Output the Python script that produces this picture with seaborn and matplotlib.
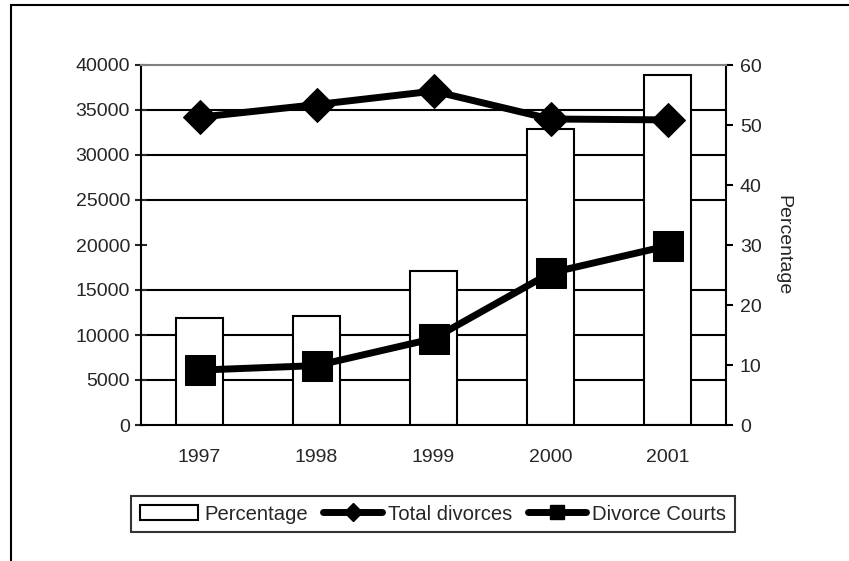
import numpy as np
import pandas as pd
import seaborn as sns
from matplotlib import pyplot as plt
from matplotlib.patches import Patch, Rectangle
from matplotlib.lines import Line2D

years = ["1997", "1998", "1999", "2000", "2001"]
total_divorces = [34200, 35600, 37100, 34000, 33900]
divorce_courts = [6100, 6600, 9600, 16900, 19900]
percentage = [17.8, 18.2, 25.7, 49.4, 58.3]

sns.set_style("white")
plt.rcParams['font.family'] = ['Liberation Sans', 'DejaVu Sans']
plt.rcParams['font.size'] = 14

df = pd.DataFrame({'year': years, 'pos': np.arange(len(years)),
                   'total': total_divorces, 'courts': divorce_courts,
                   'pct': percentage})

fig = plt.figure(figsize=(8.49, 5.61), dpi=100)
ax = fig.add_axes([141/849, 1-425/561, (726-141)/849, (425-65)/561])
ax2 = ax.twinx()

# bars on the right axis
sns.barplot(x='pos', y='pct', data=df, ax=ax2, color='white', width=0.4,
            edgecolor='black', linewidth=1.5, saturation=1, errorbar=None)
ax2.set_ylim(0, 60)
ax2.set_yticks(range(0, 61, 10))
ax2.set_yticks(np.arange(7.5, 60, 7.5), minor=True)
ax2.grid(True, which='minor', axis='y', color='black', linewidth=1.5)
ax2.set_axisbelow(True)
ax2.tick_params(axis='y', which='major', direction='out', length=5, width=1.5,
                color='black', pad=5, right=True, labelsize=14)
ax2.tick_params(axis='y', which='minor', length=0)
ax2.set_ylabel('Percentage', rotation=270, labelpad=21, fontsize=14)
ax2.set_xlabel('')

# lines on the left axis
sns.lineplot(x='pos', y='total', data=df, ax=ax, color='black', linewidth=5,
             marker='D', markersize=17, markeredgecolor='black')
sns.lineplot(x='pos', y='courts', data=df, ax=ax, color='black', linewidth=5,
             marker='s', markersize=21, markeredgecolor='black')
ax.set_ylim(0, 40000)
ax.set_yticks(range(0, 40001, 5000))
ax.set_xlim(-0.5, len(years) - 0.5)
ax.set_xticks(np.arange(-0.5, len(years), 1.0))
ax.set_xticklabels([])
ax.set_xticks(df['pos'], minor=True)
ax.set_xticklabels(years, minor=True)
ax.tick_params(axis='x', which='major', direction='inout', length=9, width=1.5)
ax.tick_params(axis='x', which='minor', length=0, pad=17, labelsize=14)
ax.tick_params(axis='y', direction='inout', length=8, width=1.5, left=True,
               pad=4, labelsize=14)
ax.set_xlabel('')
ax.set_ylabel('')
ax.set_zorder(2)
ax2.set_zorder(1)
ax.patch.set_visible(False)

for s in ['left', 'bottom']:
    ax.spines[s].set_color('black')
    ax.spines[s].set_linewidth(1.5)
ax.spines['right'].set_visible(False)
ax.spines['top'].set_color('#808080')
ax.spines['top'].set_linewidth(1.5)
for s in ['left', 'bottom', 'top']:
    ax2.spines[s].set_visible(False)
ax2.spines['right'].set_color('black')
ax2.spines['right'].set_linewidth(1.5)

handles = [
    Patch(facecolor='white', edgecolor='black', linewidth=1.5),
    Line2D([], [], color='black', linewidth=5, marker='D', markersize=9),
    Line2D([], [], color='black', linewidth=5, marker='s', markersize=10),
]
labels = ['Percentage', 'Total divorces', 'Divorce Courts']
leg = fig.legend(handles, labels, loc='center', bbox_to_anchor=(433/849, 1-514/561),
                 ncol=3, frameon=True, fancybox=False, handlelength=2.9,
                 handletextpad=0.3, columnspacing=0.75, borderpad=0.4,
                 borderaxespad=0, handleheight=0.7, fontsize=14.6)
leg.get_frame().set_edgecolor('black')
leg.get_frame().set_linewidth(1.5)

# outer chart frame
fig.patches.append(Rectangle((11/849, -0.1), 1.2, 1.1 - 5/561, transform=fig.transFigure,
                             fill=False, edgecolor='black', linewidth=1.5))

plt.savefig('out.png', dpi=100)
